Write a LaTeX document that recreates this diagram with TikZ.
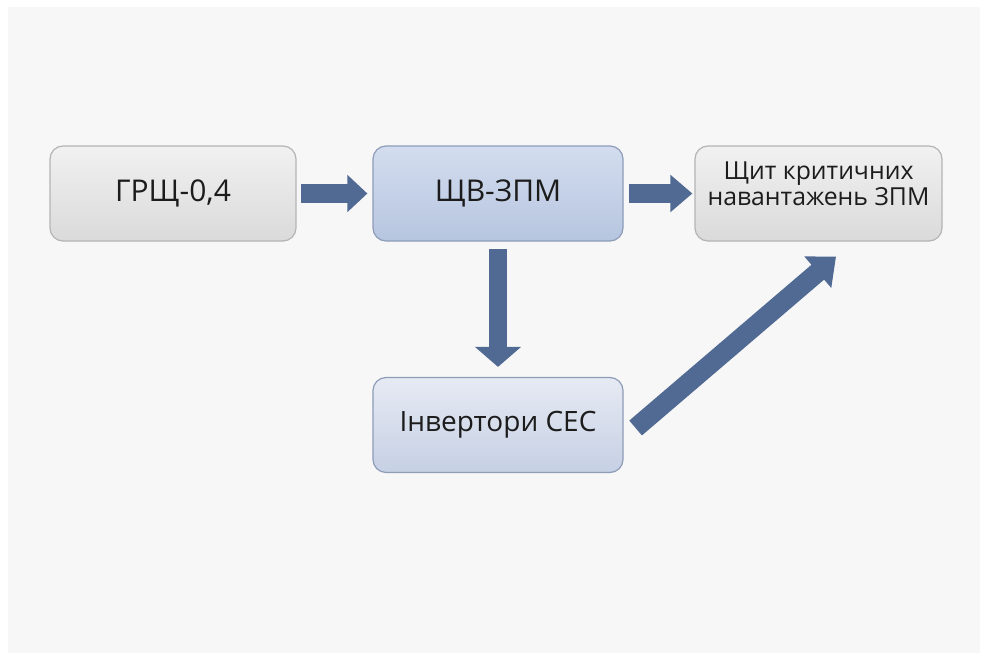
\documentclass[tikz,border=0pt]{standalone}
\usepackage{fontspec}
\setmainfont{Open Sans}
\usetikzlibrary{arrows.meta}
\definecolor{arrowblue}{HTML}{506A93}
\definecolor{bggrey}{HTML}{F7F7F7}
\definecolor{greyline}{HTML}{B4B4B4}
\definecolor{greytop}{HTML}{F1F1F1}
\definecolor{greybot}{HTML}{DADADA}
\definecolor{blueline}{HTML}{8E9CB8}
\definecolor{bluetop}{HTML}{D3DDEF}
\definecolor{bluebot}{HTML}{B6C5DF}
\definecolor{paletop}{HTML}{E6EAF3}
\definecolor{palebot}{HTML}{C6D0E4}
\definecolor{textblack}{HTML}{1C1C1C}

\begin{document}
\begin{tikzpicture}[x=1pt,y=-1pt]
		\tikzstyle{every node}+=[inner sep=0pt, text=textblack, align=center]
		\tikzstyle{greybox}=[draw=greyline, line width=1.2pt, rounded corners=13pt, top color=greytop, bottom color=greybot, minimum height=95pt]
		\tikzstyle{bluebox}=[draw=blueline, line width=1.2pt, rounded corners=13pt, top color=bluetop, bottom color=bluebot, minimum height=95pt, minimum width=250pt]
		\tikzstyle{fat}=[draw=arrowblue, line width=18.5pt]
		\tikzstyle{bigfont}=[font=\fontsize{30}{36}\selectfont]
		\fill [white] (0,0) rectangle (988,661);
		\fill [bggrey] (8,7) rectangle (980,653);
		\node [greybox, bigfont, minimum width=246pt] (grsch) at (173,193.5) {ГРЩ-0,4};
		\node [bluebox, bigfont] (schv) at (498,193.5) {ЩВ-ЗПМ};
		\node [greybox, minimum width=247pt, font=\fontsize{24.8}{25}\selectfont] (crit) at (818.5,193.5) {\raisebox{6pt}[\height][\depth]{\begin{tabular}{@{}c@{}}Щит критичних\\навантажень ЗПМ\end{tabular}}};
		\node [bluebox, top color=paletop, bottom color=palebot, font=\fontsize{28}{34}\selectfont] (inv) at (498,425) {Інвертори СЕС};
		\draw [fat, -{Triangle[width=36pt,length=20pt]}, shorten <=4pt, shorten >=5pt] (grsch) -- (schv);
		\draw [fat, -{Triangle[width=36pt,length=22pt]}, shorten <=5pt, shorten >=2pt] (schv) -- (crit);
		\draw [fat, -{Triangle[width=45pt,length=20pt]}, shorten <=7pt, shorten >=10pt] (schv) -- (inv);
		\draw [fat, line width=19.5pt, -{Triangle[width=40pt,length=24pt]}] ([xshift=12pt,yshift=-3pt]inv.east) -- ([xshift=17.5pt,yshift=-15pt]crit.south);
	\end{tikzpicture}
\end{document}
